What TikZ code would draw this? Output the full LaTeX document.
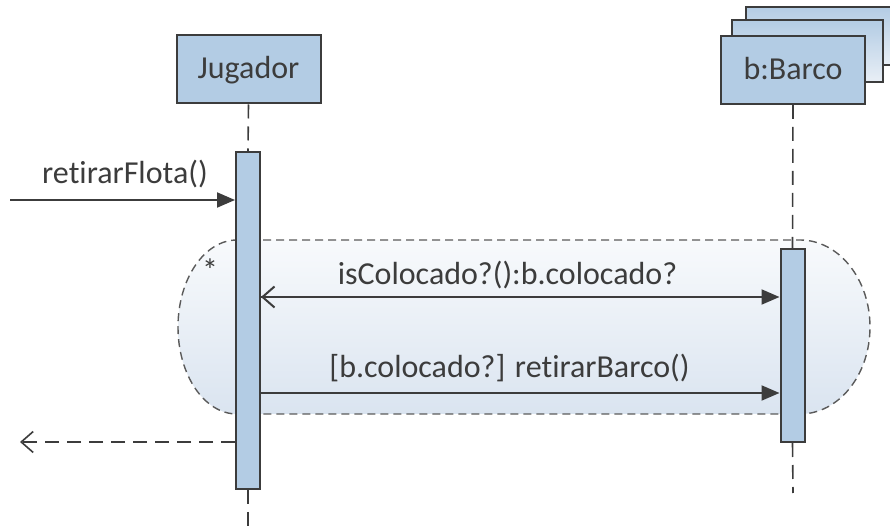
\documentclass[tikz,border=0pt]{standalone}
\usepackage{fontspec}
\setmainfont{Carlito}[RawFeature={-liga;-clig;-calt;-dlig}]
\usepackage{tikz}
\usetikzlibrary{arrows.meta}
\definecolor{boxblue}{HTML}{B3CCE4}
\definecolor{boxpale}{HTML}{E9EFF6}
\definecolor{loopblue}{HTML}{DAE4F0}
\definecolor{looptop}{HTML}{F8FAFC}
\definecolor{ink}{HTML}{3C3C3C}
\definecolor{dashgray}{HTML}{5A5A5A}

\begin{document}
\begin{tikzpicture}[x=.5pt, y=-.5pt,
	actor/.style={draw=ink, line width=1pt, fill=boxblue, minimum width=72pt, minimum height=34pt, text height=11pt, text depth=1.5pt, text=ink},
	activation/.style={draw=ink, line width=1pt, fill=boxblue, minimum width=12pt, inner sep=0pt},
	lifeline/.style={ink, line width=.8pt, dash pattern=on 7pt off 4pt},
	lbl/.style={anchor=base, text=ink, inner sep=0pt},
	syncmsg/.style={ink, line width=1pt, -{Triangle[length=9pt, width=7.5pt]}},
	backmsg/.style={ink, line width=1pt, -{Straight Barb[length=6pt, width=10.5pt]}},
	replymsg/.style={ink, line width=.8pt, dash pattern=on 7pt off 4pt, -{Straight Barb[length=6pt, width=10.5pt]}}]
	\fontsize{16}{19}\selectfont
	\useasboundingbox (0,0) rectangle (890,529);
	\clip (0,0) rectangle (890,529);

	% loop region
	\path[top color=looptop, bottom color=loopblue, draw=dashgray, line width=.7pt, dash pattern=on 4pt off 2.5pt]
		(237,240) -- (800,240) arc[start angle=-90, end angle=90, x radius=70, y radius=87]
		-- (237,414) arc[start angle=90, end angle=270, x radius=59, y radius=87] -- cycle;
	\node[text=ink] (star) at (210,270) {*};

	% stacked instances
	\draw[ink, line width=1pt, top color=boxblue, bottom color=boxpale] (746,7) rectangle (900,65);
	\draw[ink, line width=1pt, top color=boxblue, bottom color=boxpale] (732,20) rectangle (883,82);

	% heads
	\node[actor] (jug) at (248.5,69.5) {Jugador};
	\node[actor] (bar) at (793,70) {b:Barco};

	% activations
	\node[activation, minimum height=168.5pt] (jact) at (248,320.5) {};
	\node[activation, minimum height=96.5pt] (bact) at (792.5,345.5) {};

	% lifelines
	\coordinate (jend) at (248,529);
	\coordinate (bend) at (793,493);
	\draw[lifeline] (jug.south) -- (jact.north);
	\draw[lifeline] (jact.south) -- (jend);
	\draw[lifeline] (bar.south) -- (bact.north);
	\draw[lifeline] (bact.south) -- (bend);

	% messages
	\coordinate (found) at (10,200);
	\draw[syncmsg] (found) -- (found -| jact.west);
	\node[lbl] (flota) at (125,184) {retirarFlota()};

	\coordinate (m1) at (520,297);
	\draw[syncmsg] (m1 -| jact.east) -- (m1 -| bact.west);
	\draw[backmsg] (m1) -- (m1 -| jact.east);
	\node[lbl] (coloc) at (507.5,285) {isColocado?():b.colocado?};

	\coordinate (m2) at (520,393);
	\draw[syncmsg] (m2 -| jact.east) -- (m2 -| bact.west);
	\node[lbl] (retb) at (509.5,378) {[b.colocado?] retirarBarco()};

	\coordinate (lost) at (20,442);
	\draw[replymsg] (lost -| jact.west) -- (lost);
\end{tikzpicture}
\end{document}
